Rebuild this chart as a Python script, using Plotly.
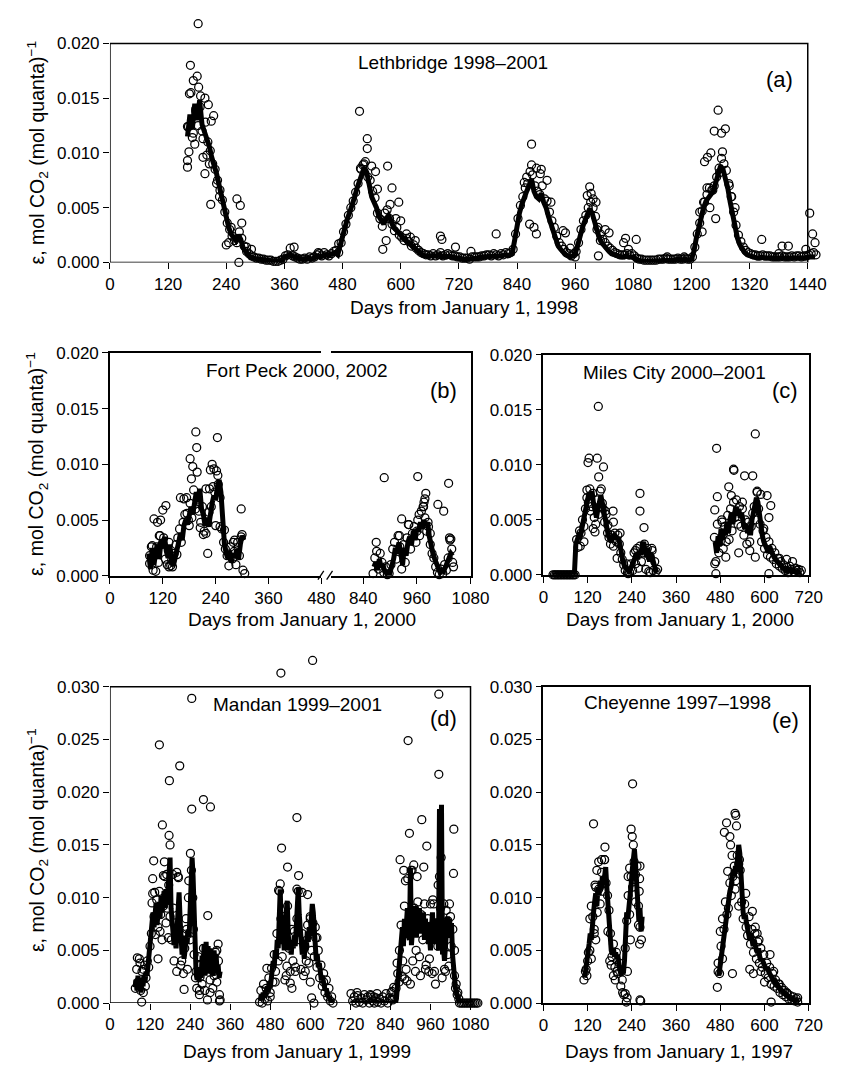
import numpy as np
import plotly.graph_objects as go

# Light-use efficiency, in units of 1e-3 mol CO2 (mol quanta)^-1.
# Each season: first day, sampling step (days) and the daily values.

# ---------------- (a) Lethbridge 1998-2001 ----------------
LETH_MODEL_START, LETH_MODEL_STEP = 160, 5
LETH_MODEL = [
    11.5, 13.5, 12.2, 14.5, 13.0, 14.8, 12.6, 12.0, 11.2, 10.6,
    9.6, 8.9, 8.1, 7.1, 6.1, 4.9, 3.9, 3.2, 2.6, 2.2,
    2.0, 2.5, 2.1, 1.3, 0.9, 0.7, 0.5, 0.4, 0.35, 0.3,
    0.3, 0.25, 0.2, 0.2, 0.15, 0.15, 0.1, 0.1, 0.1, 0.2,
    0.5, 0.6, 0.7, 0.6, 0.5, 0.4, 0.3, 0.3, 0.3, 0.35,
    0.4, 0.3, 0.4, 0.5, 0.6, 0.5, 0.6, 0.7, 0.6, 0.7,
    0.8, 0.9, 0.7, 1.6, 2.5, 3.2, 4.0, 4.6, 5.2, 6.0,
    6.8, 7.5, 8.0, 8.7, 8.2, 7.0, 6.0, 5.5, 5.0, 4.2,
    3.8, 3.5, 4.0, 4.3, 3.8, 3.2, 3.0, 2.8, 2.5, 2.2,
    2.0, 1.8, 1.6, 1.4, 1.2, 1.0, 0.8, 0.7, 0.6, 0.6,
    0.5, 0.6, 0.5, 0.6, 0.7, 0.5, 0.6, 0.5, 0.6, 0.5,
    0.5, 0.4, 0.4, 0.3, 0.3, 0.3, 0.3, 0.4, 0.4, 0.4,
    0.4, 0.5, 0.5, 0.5, 0.6, 0.5, 0.6, 0.6, 0.5, 0.6,
    0.6, 0.7, 0.6, 0.7, 0.8, 2.0, 3.5, 4.5, 5.3, 6.0,
    6.5, 7.0, 7.6, 6.5, 6.0, 5.8, 6.3, 5.5, 5.0, 4.2,
    3.5, 2.8, 2.0, 1.5, 1.2, 0.9, 0.7, 0.6, 0.5, 0.6,
    0.8, 1.5, 2.5, 3.2, 3.8, 4.4, 4.9, 4.5, 3.8, 2.8,
    2.2, 1.8, 1.5, 1.2, 1.0, 0.8, 0.7, 0.6, 0.5, 0.5,
    0.5, 0.6, 0.5, 0.5, 0.5, 0.3, 0.2, 0.2, 0.1, 0.1,
    0.1, 0.1, 0.1, 0.1, 0.2, 0.2, 0.2, 0.2, 0.2, 0.2,
    0.2, 0.2, 0.3, 0.2, 0.2, 0.3, 0.2, 0.2, 0.3, 1.0,
    2.2, 3.2, 4.2, 5.0, 5.6, 6.0, 6.2, 6.5, 7.2, 8.0,
    8.8, 8.5, 7.8, 6.8, 5.5, 4.2, 3.0, 2.2, 1.6, 1.2,
    0.9, 0.7, 0.6, 0.5, 0.5, 0.4, 0.4, 0.5, 0.4, 0.4,
    0.4, 0.3, 0.3, 0.3, 0.3, 0.4, 0.3, 0.3, 0.3, 0.4,
    0.3, 0.4, 0.4, 0.3, 0.4, 0.4, 0.5, 0.5, 0.6, 0.5,
]
LETH_OBS_START, LETH_OBS_STEP = 162, 5
LETH_OBS = [
    12.4, 15.5, 11.8, 14.0, 12.5, 15.2, 11.3, 12.8, 11.0, 10.2,
    9.0, 8.5, 7.5, 6.6, 5.7, 4.6, 3.6, 3.0, 2.4, 2.0,
    1.8, 2.8, 2.2, 1.5, 1.0, 0.8, 0.6, 0.5, 0.4, 0.4,
    0.3, 0.3, 0.2, 0.2, 0.2, 0.1, 0.1, 0.1, 0.2, 0.3,
    0.6, 0.7, 1.3, 0.6, 0.5, 0.4, 0.3, 0.3, 0.4, 0.3,
    0.5, 0.4, 0.5, 0.7, 0.8, 0.6, 0.9, 0.7, 0.6, 0.8,
    1.0, 1.1, 0.9, 1.8, 2.8, 3.5, 4.3, 5.0, 5.6, 6.4,
    7.2, 8.6, 8.9, 9.2, 7.8, 7.5, 6.5, 5.9, 4.5, 4.0,
    3.3, 4.5, 4.8, 4.0, 3.5, 2.9, 3.2, 2.5, 2.3, 2.0,
    2.2, 1.9, 1.5, 1.6, 1.3, 1.1, 0.9, 0.8, 0.7, 0.7,
    0.6, 0.8, 0.6, 0.7, 0.9, 0.6, 0.7, 0.8, 0.7, 0.6,
    0.6, 0.5, 0.5, 0.4, 0.4, 0.4, 0.3, 0.5, 0.5, 0.5,
    0.5, 0.6, 0.6, 0.7, 0.7, 0.6, 0.8, 0.7, 0.6, 0.8,
    0.7, 0.9, 0.8, 0.9, 1.2, 2.6, 4.0, 5.2, 6.0, 6.8,
    7.2, 8.3, 8.0, 7.0, 6.5, 6.2, 7.0, 5.8, 5.6, 4.6,
    3.8, 3.2, 2.4, 1.8, 1.5, 1.2, 0.9, 0.8, 0.6, 0.8,
    1.0, 1.8, 3.0, 3.8, 4.3, 5.0, 5.5, 5.0, 4.2, 3.2,
    2.6, 2.1, 1.8, 1.5, 1.3, 1.1, 0.9, 0.8, 0.7, 0.7,
    0.7, 0.8, 0.7, 0.8, 0.6, 0.4, 0.3, 0.3, 0.2, 0.2,
    0.2, 0.2, 0.2, 0.2, 0.3, 0.3, 0.3, 0.4, 0.3, 0.3,
    0.3, 0.3, 0.4, 0.3, 0.3, 0.4, 0.3, 0.3, 0.5, 1.4,
    2.6, 3.6, 4.7, 5.5, 6.2, 6.8, 6.6, 7.0, 7.8, 8.6,
    9.5, 9.0, 8.4, 7.2, 6.0, 4.6, 3.4, 2.5, 1.9, 1.4,
    1.1, 0.9, 0.8, 0.7, 0.7, 0.6, 0.6, 0.7, 0.6, 0.6,
    0.6, 0.5, 0.5, 0.5, 0.5, 0.6, 0.5, 0.5, 0.5, 0.6,
    0.5, 0.6, 0.6, 0.5, 0.6, 0.6, 0.7, 0.8, 0.9, 0.7,
]
LETH_EXTRA_DAYS = [
    182, 166, 180, 172, 183, 164, 196, 203, 214, 209, 160, 163, 160, 160, 192, 196,
    175, 170, 186, 177, 190, 200, 205, 208, 220, 226, 262, 269, 272, 266, 250, 240,
    245, 282, 292, 380, 430, 472, 515, 531, 531, 524, 518, 540, 548, 573, 582, 596,
    563, 570, 552, 578, 590, 600, 612, 620, 630, 682, 685, 713, 745, 797, 870, 870,
    880, 890, 888, 860, 855, 866, 875, 880, 902, 910, 935, 940, 950, 960, 985, 990,
    993, 997, 1003, 1005, 1008, 1012, 1022, 1030, 1064, 1086, 1060, 1070, 1150, 1185,
    1217, 1225, 1227, 1240, 1233, 1247, 1255, 1262, 1270, 1264, 1258, 1244, 1250,
    1238, 1232, 1278, 1283, 1290, 1222, 1345, 1387, 1400, 1380, 1444, 1455, 1450, 1436,
]
LETH_EXTRA_VALS = [
    21.8, 18.0, 17.0, 16.6, 16.0, 15.4, 15.0, 14.4, 13.4, 12.9, 12.4, 10.1, 9.3, 8.7, 9.6, 8.1,
    10.8, 11.4, 14.2, 13.8, 12.0, 9.8, 9.0, 5.3, 7.2, 6.0, 5.8, 5.2, 3.6, 0.0, 3.2, 1.6,
    1.8, 1.4, 1.2, 1.4, 0.9, 1.7, 13.8, 11.3, 10.4, 9.0, 8.5, 8.8, 8.3, 8.8, 6.8, 5.5,
    1.2, 2.0, 6.7, 5.3, 4.0, 3.8, 2.6, 2.3, 2.0, 2.4, 2.1, 1.4, 1.0, 2.6, 10.8, 8.9,
    8.6, 8.5, 8.1, 7.8, 7.3, 3.5, 3.2, 2.6, 7.5, 5.5, 2.9, 2.7, 1.3, 0.5, 6.1, 6.9,
    6.3, 5.8, 5.5, 3.0, 0.6, 2.0, 3.0, 2.7, 2.2, 2.1, 1.8, 1.2, 0.5, 0.5,
    4.6, 5.5, 9.2, 10.0, 9.6, 12.0, 13.9, 11.8, 12.2, 10.1, 8.2, 6.6, 4.0,
    5.0, 6.8, 7.0, 6.0, 5.0, 2.8, 2.1, 1.5, 1.5, 0.8, 4.5, 1.8, 2.6, 1.2,
]

# ---------------- (b) Fort Peck 2000, 2002 ----------------
FP_MODEL_2000_START, FP_MODEL_2000_STEP = 88, 4
FP_MODEL_2000 = [
    2.0, 0.6, 2.5, 1.0, 2.2, 2.8, 1.5, 3.2, 2.5, 3.5,
    2.2, 1.6, 2.8, 1.2, 0.9, 1.5, 2.2, 3.0, 3.8, 3.2,
    4.5, 5.0, 4.6, 5.8, 6.2, 5.5, 7.0, 7.5, 6.6, 7.8,
    6.0, 5.5, 4.5, 5.2, 4.4, 6.0, 6.5, 7.2, 6.8, 8.0,
    8.6, 7.5, 5.0, 2.8, 2.0, 1.5, 2.2, 1.2, 2.0, 1.6,
    2.4, 1.5, 2.8, 3.6, 3.2,
]
FP_OBS_2000_START, FP_OBS_2000_STEP = 90, 4
FP_OBS_2000 = [
    1.8, 2.6, 0.5, 2.0, 2.6, 1.2, 3.6, 2.8, 3.4, 1.5,
    1.0, 3.0, 0.9, 0.8, 2.0, 2.8, 3.4, 4.2, 3.0, 4.8,
    5.5, 7.0, 5.0, 6.5, 5.2, 7.7, 6.0, 6.8, 5.8, 4.8,
    6.2, 4.0, 3.8, 4.8, 7.8, 6.2, 8.0, 7.5, 9.4, 8.2,
    7.0, 4.2, 3.0, 2.4, 1.8, 0.9, 2.6, 1.5, 2.2, 1.0,
    3.0, 1.8, 3.5, 0.5, 0.2,
]
FP_EXTRA_2000_DAYS = [
    195, 244, 197, 182, 188, 198, 185, 232, 228, 236, 245, 298, 222, 100, 115, 120,
    127, 108, 112, 96, 90, 104, 160, 168, 175, 180, 205, 212, 218, 225, 240, 250,
    260, 283, 300, 280, 134, 140, 152,
]
FP_EXTRA_2000_VALS = [
    12.9, 12.4, 11.5, 10.5, 9.8, 9.3, 8.7, 10.0, 9.5, 9.6, 9.0, 6.0, 2.0, 5.1, 5.0, 5.9,
    6.3, 4.8, 3.6, 2.7, 1.1, 0.4, 7.0, 6.9, 5.6, 4.5, 4.3, 3.7, 7.8, 5.7, 4.5, 4.4,
    4.1, 3.2, 3.7, 3.0, 0.8, 1.4, 1.9,
]
FP_MODEL_2002_START, FP_MODEL_2002_STEP = 864, 4
FP_MODEL_2002 = [
    0.8, 1.2, 0.5, 1.5, 0.8, 1.0, 0.4, 0.2, 0.1, 0.3,
    0.8, 1.5, 2.5, 2.0, 3.0, 2.2, 1.0, 2.5, 1.8, 3.0,
    3.5, 2.8, 4.0, 3.2, 4.2, 4.0, 4.8, 4.2, 5.0, 4.5,
    4.8, 3.5, 2.5, 2.0, 1.5, 1.0, 0.5, 0.3, 0.5, 0.4,
    0.8, 1.2, 1.5, 2.0, 1.8,
]
FP_OBS_2002_START, FP_OBS_2002_STEP = 862, 4
FP_OBS_2002 = [
    0.2, 1.6, 2.2, 0.6, 2.0, 1.2, 0.3, 0.8, 0.1, 0.2,
    1.0, 2.4, 3.0, 1.5, 3.6, 2.6, 0.6, 2.8, 1.2, 3.4,
    4.6, 2.4, 3.8, 4.4, 3.0, 5.0, 3.6, 5.8, 6.2, 5.2,
    4.0, 4.4, 2.8, 2.0, 1.6, 0.8, 0.3, 0.1, 0.6, 0.2,
    1.0, 0.5, 1.6, 3.2, 2.4, 0.8,
]
FP_EXTRA_2002_DAYS = [
    869, 887, 962, 1031, 980, 978, 976, 975, 1007, 1020, 926, 921, 941, 1033, 1036,
    960, 965, 985, 990, 1040,
]
FP_EXTRA_2002_VALS = [
    3.0, 8.8, 8.9, 8.3, 7.4, 6.9, 6.6, 6.2, 6.4, 5.8, 5.1, 3.6, 4.6, 3.4, 3.3,
    4.0, 5.5, 4.8, 3.8, 1.2,
]

# ---------------- (c) Miles City 2000-2001 ----------------
MC_MODEL_2000_START, MC_MODEL_2000_STEP = 24, 4
MC_MODEL_2000 = [
    0, 0, 0, 0, 0, 0, 0, 0, 0, 0, 0, 0, 0, 0, 0, 0,
    2.8, 3.2, 3.6, 3.5, 4.2, 4.8, 5.5, 6.5, 7.2, 7.5,
    7.0, 7.6, 6.5, 5.8, 5.2, 6.0, 6.8, 7.2, 6.5, 5.6,
    5.0, 4.2, 3.6, 3.2, 3.0, 3.4, 3.6, 3.5, 3.2, 3.4,
    2.5, 1.6, 1.2, 0.8, 0.6, 0.4, 0.3, 0.5, 0.8, 1.2,
    1.5, 2.0, 1.4, 2.2, 1.8, 2.6, 3.0, 2.2, 1.6, 2.4,
    1.2, 2.0, 1.4, 0.8, 0.5, 0.2,
]
MC_OBS_2000_START, MC_OBS_2000_STEP = 26, 4
MC_OBS_2000 = [
    0, 0, 0, 0, 0, 0, 0, 0, 0, 0, 0, 0, 0, 0, 0, 0,
    3.2, 2.5, 4.0, 3.8, 5.0, 4.4, 6.0, 7.0, 6.6, 7.8,
    6.2, 7.4, 5.2, 4.6, 6.8, 5.5, 7.6, 6.2, 6.0, 4.8,
    5.5, 3.8, 3.4, 2.8, 3.6, 2.6, 3.8, 3.0, 3.6, 2.8,
    2.0, 1.4, 0.9, 0.4, 1.0, 0.1, 0.2, 1.0, 0.4, 2.0,
    1.0, 2.4, 0.6, 2.6, 1.2, 2.0, 2.8, 0.5, 2.4, 0.3,
    1.6, 2.4, 0.4, 1.2, 0.3, 0.5,
]
MC_EXTRA_2000_DAYS = [
    121, 124, 146, 149, 150, 163, 157, 189, 190, 262, 262, 273, 118, 128, 135, 140,
    160, 168, 175, 200, 208, 228, 250, 290, 295, 110, 100,
]
MC_EXTRA_2000_VALS = [
    10.2, 10.6, 10.6, 15.3, 8.9, 9.8, 7.8, 5.8, 4.8, 7.4, 5.8, 4.3, 7.7, 5.8, 4.2, 3.9,
    6.5, 5.8, 4.5, 1.5, 3.8, 0.2, 2.2, 0.2, 2.2, 3.0, 2.6,
]
MC_MODEL_2001_START, MC_MODEL_2001_STEP = 466, 4
MC_MODEL_2001 = [
    3.0, 2.0, 3.5, 2.6, 4.2, 3.2, 4.0, 3.6, 4.8, 3.8,
    5.0, 5.6, 4.6, 5.8, 6.2, 5.4, 6.0, 5.2, 5.6, 4.8,
    4.2, 4.6, 3.8, 4.4, 3.6, 5.0, 5.8, 6.5, 7.0, 6.6,
    5.4, 4.2, 3.6, 3.0, 2.8, 2.4, 2.0, 2.6, 2.2, 1.8,
    1.6, 1.4, 1.2, 1.0, 0.9, 0.7, 0.6, 0.5, 0.4, 0.3,
    0.5, 0.4, 0.3, 0.4, 0.3, 0.2, 0.3, 0.2, 0.3,
]
MC_OBS_2001_START, MC_OBS_2001_STEP = 464, 4
MC_OBS_2001 = [
    3.4, 1.2, 4.6, 2.0, 3.0, 5.0, 2.4, 4.4, 3.0, 5.4,
    3.2, 6.0, 4.0, 6.6, 5.2, 6.8, 4.6, 6.2, 4.4, 6.0,
    3.6, 5.0, 2.8, 4.8, 3.0, 4.4, 5.6, 6.2, 5.0, 7.6,
    6.0, 4.6, 3.0, 4.0, 2.4, 3.4, 1.8, 3.0, 1.6, 2.4,
    1.4, 2.0, 1.0, 1.5, 0.8, 1.2, 0.6, 0.9, 0.4, 0.7,
    0.2, 0.8, 0.5, 1.2, 0.3, 0.6, 0.4, 0.5, 0.2, 0.4,
]
MC_EXTRA_2001_DAYS = [
    465, 470, 472, 468, 465, 575, 516, 517, 546, 568, 503, 510, 580, 590, 607, 617,
    612, 612, 530, 560, 575, 495, 485, 598, 540, 660, 665, 640,
]
MC_EXTRA_2001_VALS = [
    5.9, 11.5, 7.1, 0.1, 1.0, 12.8, 9.6, 9.5, 9.0, 9.0, 8.0, 7.2, 7.5, 7.3, 7.2, 6.3,
    5.2, 0.1, 2.0, 2.2, 1.6, 1.6, 4.8, 4.2, 6.6, 1.4, 0.3, 1.5,
]

# ---------------- (d) Mandan 1999-2001 ----------------
MAN_MODEL_1999_START, MAN_MODEL_1999_STEP = 75, 3
MAN_MODEL_1999 = [
    1.5, 2.2, 1.2, 2.6, 1.6, 2.0, 1.0, 2.4, 1.6, 2.6,
    2.0, 3.0, 2.6, 3.6, 4.2, 5.0, 5.6, 6.5, 8.6, 7.2,
    8.0, 9.5, 7.4, 8.8, 9.6, 8.0, 10.2, 8.6, 9.8, 10.6,
    9.0, 10.8, 9.4, 11.0, 12.5, 13.8, 9.0, 7.0, 6.2, 5.5,
    6.0, 5.2, 7.0, 9.4, 10.5, 8.0, 5.4, 4.6, 5.8, 4.2,
    5.0, 6.4, 5.6, 7.0, 6.2, 8.4, 10.5, 13.8, 12.0, 7.5,
    4.4, 2.8, 2.2, 3.0, 2.0, 3.4, 2.4, 4.5, 3.0, 5.6,
    2.6, 5.8, 3.2, 5.4, 2.8, 5.2, 3.0, 4.8, 2.6, 5.0,
    3.2, 4.6, 2.8, 3.6, 2.4, 3.0,
]
MAN_OBS_1999_START, MAN_OBS_1999_STEP = 76, 4
MAN_OBS_1999 = [
    1.4, 3.2, 2.0, 4.2, 1.2, 3.0, 1.0, 3.6, 2.4, 4.0,
    3.4, 5.4, 6.6, 10.4, 8.2, 6.5, 9.8, 7.2, 10.6, 8.4,
    6.0, 9.2, 12.0, 7.6, 9.0, 11.2, 8.2, 6.0, 12.2, 4.0,
    7.6, 3.0, 12.0, 6.2, 3.6, 6.6, 2.8, 5.2, 8.0, 3.2,
    11.6, 6.0, 12.6, 10.0, 4.6, 2.4, 1.4, 4.4, 0.8, 3.6,
    1.8, 5.2, 1.2, 4.6, 0.3, 4.0, 2.2, 3.8, 1.4, 2.6,
    4.8, 2.0, 5.6, 0.2,
]
MAN_EXTRA_1999_DAYS = [
    148, 209, 178, 245, 245, 280, 301, 157, 177, 180, 241, 131, 128, 163, 160, 293,
    222, 144, 95, 170, 200, 205, 235, 134, 126, 150, 175, 190, 215, 230, 250, 258,
    268, 270, 286, 300, 310, 320, 325, 328, 330, 82, 90, 100, 106,
]
MAN_EXTRA_1999_VALS = [
    24.5, 22.5, 21.1, 28.9, 18.4, 19.3, 18.6, 16.9, 15.9, 15.0, 14.2, 13.5, 11.8, 13.4, 12.1, 8.3,
    1.3, 4.2, 0.1, 12.2, 12.4, 11.9, 10.0, 10.5, 9.5, 6.8, 6.2, 9.0, 4.0, 7.0, 7.0, 3.0,
    1.2, 2.5, 3.4, 1.0, 3.0, 5.0, 4.0, 0.8, 0.3, 4.3, 3.8, 3.2, 1.6,
]
MAN_MODEL_2000_START, MAN_MODEL_2000_STEP = 450, 3
MAN_MODEL_2000 = [
    0.2, 0.8, 0.3, 1.0, 0.5, 1.2, 0.8, 1.6, 1.0, 2.0,
    1.4, 2.6, 3.0, 4.0, 3.4, 5.0, 4.2, 6.0, 5.2, 8.0,
    10.8, 7.0, 5.6, 6.4, 5.0, 7.4, 8.2, 9.7, 6.6, 5.0,
    5.8, 4.6, 6.0, 5.2, 6.4, 5.4, 7.2, 9.0, 10.9, 8.4,
    6.8, 5.2, 4.6, 5.4, 4.2, 6.0, 5.0, 6.8, 5.8, 7.2,
    6.4, 8.0, 9.4, 8.6, 6.0, 5.2, 4.0, 4.6, 3.4, 3.8,
    2.8, 2.2, 2.6, 1.8, 1.6, 1.2, 1.4, 0.8, 0.6, 0.4,
    0.2, 0.1, 0.0,
]
MAN_OBS_2000_START, MAN_OBS_2000_STEP = 448, 4
MAN_OBS_2000 = [
    0.1, 1.2, 0.0, 1.8, 0.4, 1.4, 0.2, 2.4, 0.6, 3.3,
    2.0, 4.6, 3.0, 6.6, 4.0, 10.6, 8.0, 4.4, 7.2, 2.2,
    6.0, 9.2, 5.2, 3.0, 7.0, 4.0, 6.8, 3.4, 8.0, 10.6,
    6.0, 3.2, 6.6, 2.6, 5.4, 4.0, 7.4, 3.8, 8.2, 5.0,
    7.6, 4.4, 6.2, 3.4, 5.0, 2.4, 3.6, 1.6, 2.8, 1.0,
    2.2, 0.6, 1.4, 0.2, 0.6, 0.0,
]
MAN_EXTRA_2000_DAYS = [
    512, 607, 560, 514, 532, 565, 592, 510, 505, 520, 560, 575, 600, 615, 620, 528,
    540, 545, 600, 604, 611, 470, 480, 495, 530, 555, 585, 640,
]
MAN_EXTRA_2000_VALS = [
    31.3, 32.5, 17.6, 14.7, 12.9, 12.1, 10.3, 11.3, 10.7, 8.2, 10.8, 10.5, 8.0, 7.2, 6.2, 2.6,
    1.9, 1.4, 2.0, 0.5, 0.0, 3.3, 1.0, 2.0, 3.5, 3.0, 3.0, 2.0,
]
MAN_MODEL_2001_START, MAN_MODEL_2001_STEP = 720, 3
MAN_MODEL_2001 = [
    0, 0, 0, 0, 0, 0, 0, 0, 0, 0, 0, 0, 0, 0, 0, 0, 0, 0, 0, 0, 0, 0, 0,
    0, 0, 0, 0, 0, 0, 0, 0, 0, 0, 0, 0, 0, 0, 0, 0, 0, 0, 0, 0, 0, 0, 0,
    0.4, 1.5, 2.6, 4.0, 5.2, 6.0, 7.2, 5.4, 8.0, 6.2,
    7.6, 9.0, 6.4, 6.0, 12.8, 5.5, 6.8, 8.6, 7.0, 9.2,
    6.2, 8.8, 7.0, 9.0, 6.6, 8.4, 7.2, 8.6, 6.0, 8.0,
    6.4, 7.6, 5.6, 6.4, 5.0, 7.0, 8.6, 6.0, 7.4, 5.6,
    6.8, 8.0, 5.0, 18.4, 5.8, 18.8, 4.6, 5.2, 4.0, 5.6,
    7.0, 8.2, 6.4, 8.0, 6.2, 7.6, 4.6, 3.0, 2.0, 1.4,
    1.0, 0.6, 0.2, 0, 0, 0, 0, 0, 0, 0, 0, 0, 0, 0, 0,
]
MAN_OBS_2001_START, MAN_OBS_2001_STEP = 722, 5
MAN_OBS_2001 = [
    0.9, 0.2, 0.6, 0.0, 0.7, 0.1, 0.5, 0.0, 0.8, 0.3,
    0.6, 0.0, 0.7, 0.2, 0.0, 0.5, 0.1, 0.4, 0.0, 0.6,
    0.2, 0.9, 0.0, 0.5, 1.0, 0.3, 0.6,
    1.4, 2.8, 5.0, 7.4, 4.0, 9.2, 3.2, 11.8, 6.6, 12.6,
    4.0, 9.0, 5.0, 9.6, 4.4, 8.4, 6.0, 9.4, 3.6, 8.0,
    4.2, 7.0, 9.8, 3.0, 7.6, 5.4, 12.0, 13.8, 6.8, 3.2,
    8.8, 4.6, 9.4, 5.4, 7.0, 2.6, 1.8, 1.0,
    0, 0, 0, 0, 0, 0, 0, 0, 0, 0, 0, 0,
]
MAN_EXTRA_2001_DAYS = [
    985, 893, 985, 934, 1030, 897, 949, 869, 1029, 880, 885, 905, 910, 920, 940, 960,
    970, 983, 990, 1000, 1012, 1020, 1032, 875, 883, 890, 900, 915, 930, 945, 955, 965,
    975, 995, 1005, 1015, 1035, 1040, 1045, 860, 850, 845, 800, 780, 790, 740, 845, 866,
]
MAN_EXTRA_2001_VALS = [
    29.3, 24.9, 21.7, 17.4, 16.5, 16.1, 14.9, 13.6, 12.3, 12.6, 11.6, 12.6, 13.1, 12.0, 12.9, 9.4,
    9.4, 11.2, 9.0, 9.4, 7.8, 8.2, 5.0, 2.5, 2.3, 2.1, 1.8, 3.0, 2.6, 3.2, 3.0, 2.8,
    1.8, 2.4, 3.0, 3.5, 1.4, 0.8, 0.4, 3.8, 1.5, 0.4, 0.9, 0.8, 0.6, 1.0, 1.1, 2.0,
]

# ---------------- (e) Cheyenne 1997-1998 ----------------
CH_MODEL_1997_START, CH_MODEL_1997_STEP = 112, 3
CH_MODEL_1997 = [
    2.4, 3.0, 3.6, 4.8, 5.6, 6.6, 6.0, 8.0, 8.6, 9.6,
    10.4, 9.2, 11.0, 10.2, 11.6, 10.8, 12.0, 11.2, 12.6, 12.9,
    11.0, 9.0, 7.0, 5.8, 5.0, 4.6, 5.2, 4.4, 4.8, 4.2,
    4.6, 3.6, 3.0, 2.6, 3.2, 2.8, 4.0, 6.6, 8.6, 8.0,
    9.6, 10.4, 11.2, 12.6, 13.6, 14.6, 13.2, 11.0, 9.0, 7.8,
    9.0, 6.8, 8.2,
]
CH_OBS_1997_START, CH_OBS_1997_STEP = 110, 4
CH_OBS_1997 = [
    2.2, 3.0, 2.6, 4.8, 5.0, 4.2, 8.2, 6.6, 11.0, 8.6,
    10.8, 9.4, 12.4, 10.6, 13.6, 11.4, 10.2, 8.8, 6.6, 4.4,
    5.6, 3.4, 4.8, 2.8, 3.8, 1.6, 2.2, 0.8, 5.2, 7.8,
    10.2, 8.4, 12.0, 11.0, 13.4, 12.2, 13.0, 9.2, 7.2, 6.0,
]
CH_EXTRA_1997_DAYS = [
    136, 167, 158, 166, 150, 145, 140, 130, 126, 138, 142, 120, 116, 242, 238, 241,
    244, 262, 261, 260, 258, 261, 262, 264, 227, 225, 222, 230, 234, 250, 245, 200,
    190, 175, 180, 184, 195, 215, 236, 228,
]
CH_EXTRA_1997_VALS = [
    17.0, 14.8, 13.6, 13.6, 13.4, 12.6, 11.2, 9.2, 8.0, 7.0, 6.0, 4.0, 3.2, 20.8, 16.5, 15.8,
    15.0, 13.0, 11.8, 10.6, 7.4, 5.6, 0.3, 0.2, 0.5, 0.1, 0.9, 12.0, 12.8, 9.6, 11.5, 3.0,
    2.6, 6.8, 4.0, 3.6, 2.2, 1.0, 6.0, 3.0,
]
CH_MODEL_1998_START, CH_MODEL_1998_STEP = 476, 3
CH_MODEL_1998 = [
    2.6, 3.4, 4.2, 5.0, 6.2, 7.2, 8.0, 8.8, 9.4, 10.0,
    10.6, 11.0, 11.8, 12.6, 12.0, 13.0, 12.4, 13.6, 15.0, 14.2,
    12.0, 10.0, 8.6, 8.0, 8.4, 7.6, 7.0, 6.4, 6.0, 6.6,
    5.8, 5.4, 6.0, 5.2, 5.0, 4.8, 5.2, 4.4, 4.0, 4.2,
    3.8, 3.6, 3.4, 3.2, 3.4, 3.0, 2.8, 2.6, 2.4, 2.2,
    2.0, 2.1, 1.8, 1.7, 1.5, 1.4, 1.3, 1.1, 1.0, 0.9,
    0.8, 0.7, 0.6, 0.6, 0.5, 0.4, 0.4, 0.3, 0.3, 0.2,
    0.2, 0.1,
]
CH_OBS_1998_START, CH_OBS_1998_STEP = 474, 4
CH_OBS_1998 = [
    3.8, 2.8, 5.4, 4.2, 7.0, 9.6, 8.4, 9.0, 11.4, 10.2,
    12.0, 13.0, 11.6, 14.0, 13.2, 12.6, 9.6, 8.0, 9.4, 7.2,
    6.4, 8.2, 5.6, 7.0, 4.8, 6.6, 4.2, 5.8, 3.8, 5.2,
    3.4, 4.6, 2.8, 3.8, 2.4, 3.4, 1.8, 2.8, 1.6, 2.2,
    1.4, 1.8, 1.0, 1.5, 0.8, 1.2, 0.6, 0.9, 0.4, 0.7,
    0.3, 0.6, 0.2, 0.4, 0.1,
]
CH_EXTRA_1998_DAYS = [
    472, 474, 480, 486, 491, 497, 520, 522, 524, 506, 508, 500, 512, 532, 513, 520,
    530, 549, 567, 575, 580, 585, 615, 618, 560, 570, 590, 600, 625, 640, 650, 660, 690,
]
CH_EXTRA_1998_VALS = [
    1.5, 3.0, 6.8, 8.0, 16.2, 17.1, 18.0, 17.8, 16.8, 15.8, 15.0, 12.5, 14.0, 13.6, 2.8, 10.8,
    9.2, 10.4, 8.7, 7.2, 6.6, 6.0, 4.6, 0.1, 3.2, 2.8, 3.0, 2.0, 3.0, 1.8, 1.2, 1.0, 0.5,
]

# Axis ticks
TICKS_1440 = list(range(0, 1441, 120))
TICKS_FP_LEFT = [0, 120, 240, 360, 480]
TICKS_FP_RIGHT = [840, 960, 1080]
TICKS_720 = list(range(0, 721, 120))
TICKS_1080 = list(range(0, 1081, 120))
Y_TICKS_020 = [0.0, 0.005, 0.010, 0.015, 0.020]
Y_TICKS_030 = [0.0, 0.005, 0.010, 0.015, 0.020, 0.025, 0.030]

Y_TITLE = "ε, mol CO<sub>2</sub> (mol quanta)<sup>−1</sup>"


def season(start, step, vals):
    days = start + step * np.arange(len(vals))
    return days, np.asarray(vals, dtype=float) / 1000.0


W, H = 853, 1074
FONT = "Liberation Sans, Arial, Helvetica, sans-serif"


def fx(p):
    return p / W


def fy(p):
    return 1 - p / H


fig = go.Figure()


def add_obs(xa, ya, days, vals):
    fig.add_trace(go.Scatter(
        x=days, y=vals, xaxis=xa, yaxis=ya, mode="markers", cliponaxis=False,
        marker=dict(symbol="circle-open", size=8, color="black",
                    line=dict(width=1.25, color="black")),
        showlegend=False, hoverinfo="skip"))


def add_model(xa, ya, days, vals):
    fig.add_trace(go.Scatter(
        x=days, y=vals, xaxis=xa, yaxis=ya, mode="lines",
        line=dict(color="black", width=5),
        showlegend=False, hoverinfo="skip"))


def add_extra(xa, ya, days, vals):
    add_obs(xa, ya, np.asarray(days), np.asarray(vals, dtype=float) / 1000.0)


# (a)
add_obs("x", "y", *season(LETH_OBS_START, LETH_OBS_STEP, LETH_OBS))
add_extra("x", "y", LETH_EXTRA_DAYS, LETH_EXTRA_VALS)
add_model("x", "y", *season(LETH_MODEL_START, LETH_MODEL_STEP, LETH_MODEL))

# (b) left and right of the axis break
add_obs("x2", "y2", *season(FP_OBS_2000_START, FP_OBS_2000_STEP, FP_OBS_2000))
add_extra("x2", "y2", FP_EXTRA_2000_DAYS, FP_EXTRA_2000_VALS)
add_model("x2", "y2", *season(FP_MODEL_2000_START, FP_MODEL_2000_STEP, FP_MODEL_2000))
add_obs("x3", "y3", *season(FP_OBS_2002_START, FP_OBS_2002_STEP, FP_OBS_2002))
add_extra("x3", "y3", FP_EXTRA_2002_DAYS, FP_EXTRA_2002_VALS)
add_model("x3", "y3", *season(FP_MODEL_2002_START, FP_MODEL_2002_STEP, FP_MODEL_2002))

# (c)
add_obs("x4", "y4", *season(MC_OBS_2000_START, MC_OBS_2000_STEP, MC_OBS_2000))
add_extra("x4", "y4", MC_EXTRA_2000_DAYS, MC_EXTRA_2000_VALS)
add_model("x4", "y4", *season(MC_MODEL_2000_START, MC_MODEL_2000_STEP, MC_MODEL_2000))
add_obs("x4", "y4", *season(MC_OBS_2001_START, MC_OBS_2001_STEP, MC_OBS_2001))
add_extra("x4", "y4", MC_EXTRA_2001_DAYS, MC_EXTRA_2001_VALS)
add_model("x4", "y4", *season(MC_MODEL_2001_START, MC_MODEL_2001_STEP, MC_MODEL_2001))

# (d)
for s_obs, s_ext, s_mod in [
    ((MAN_OBS_1999_START, MAN_OBS_1999_STEP, MAN_OBS_1999),
     (MAN_EXTRA_1999_DAYS, MAN_EXTRA_1999_VALS),
     (MAN_MODEL_1999_START, MAN_MODEL_1999_STEP, MAN_MODEL_1999)),
    ((MAN_OBS_2000_START, MAN_OBS_2000_STEP, MAN_OBS_2000),
     (MAN_EXTRA_2000_DAYS, MAN_EXTRA_2000_VALS),
     (MAN_MODEL_2000_START, MAN_MODEL_2000_STEP, MAN_MODEL_2000)),
    ((MAN_OBS_2001_START, MAN_OBS_2001_STEP, MAN_OBS_2001),
     (MAN_EXTRA_2001_DAYS, MAN_EXTRA_2001_VALS),
     (MAN_MODEL_2001_START, MAN_MODEL_2001_STEP, MAN_MODEL_2001)),
]:
    add_obs("x5", "y5", *season(*s_obs))
    add_extra("x5", "y5", *s_ext)
    add_model("x5", "y5", *season(*s_mod))

# (e)
add_obs("x6", "y6", *season(CH_OBS_1997_START, CH_OBS_1997_STEP, CH_OBS_1997))
add_extra("x6", "y6", CH_EXTRA_1997_DAYS, CH_EXTRA_1997_VALS)
add_model("x6", "y6", *season(CH_MODEL_1997_START, CH_MODEL_1997_STEP, CH_MODEL_1997))
add_obs("x6", "y6", *season(CH_OBS_1998_START, CH_OBS_1998_STEP, CH_OBS_1998))
add_extra("x6", "y6", CH_EXTRA_1998_DAYS, CH_EXTRA_1998_VALS)
add_model("x6", "y6", *season(CH_MODEL_1998_START, CH_MODEL_1998_STEP, CH_MODEL_1998))

AX = dict(showline=True, linecolor="black", linewidth=1.5, ticks="outside",
          ticklen=6, tickwidth=1.3, tickcolor="black", showgrid=False,
          zeroline=False, tickfont=dict(family=FONT, size=17, color="black"))


def xax(anchor, left, right, rng, ticks, mirror=True, line=True):
    return dict(AX, anchor=anchor, domain=[fx(left), fx(right)], range=rng,
                tickmode="array", tickvals=ticks, mirror=mirror, showline=line)


def yax(anchor, top, bottom, rng, ticks, mirror=True, line=True):
    return dict(AX, anchor=anchor, domain=[fy(bottom), fy(top)], range=rng,
                tickmode="array", tickvals=ticks, tickformat=".3f", mirror=mirror,
                showline=line)


# Panels (a) and (d) carry points beyond their frames, so their plotting
# areas are enlarged at the same scale and the frame is drawn separately.
A_XMAX, A_YMAX = 1462, 0.0222
D_XMAX, D_YMAX = 1106, 0.0332
a_right = 108 + (826 - 108) * A_XMAX / 1440
a_top = 258 - (258 - 35) * A_YMAX / 0.020
d_right = 108 + (479 - 108) * D_XMAX / 1080
d_top = 1012 - (1012 - 690) * D_YMAX / 0.030

fig.update_layout(
    width=W, height=H, margin=dict(l=0, r=0, t=0, b=0),
    paper_bgcolor="white", plot_bgcolor="white",
    font=dict(family=FONT, color="black"),
    xaxis=xax("y", 108, a_right, [0, A_XMAX], TICKS_1440, line=False),
    yaxis=yax("x", a_top, 258, [0, A_YMAX], Y_TICKS_020, line=False),
    xaxis2=xax("y2", 108, 325.5, [0, 480], TICKS_FP_LEFT),
    yaxis2=yax("x2", 350, 577, [0, 0.020], Y_TICKS_020, mirror=False),
    xaxis3=xax("y3", 335, 479, [767, 1080], TICKS_FP_RIGHT),
    yaxis3=dict(anchor="x3", side="right", domain=[fy(577), fy(350)], range=[0, 0.020],
                showline=True, linecolor="black", linewidth=1.5, ticks="",
                showticklabels=False, showgrid=False, zeroline=False),
    xaxis4=xax("y4", 554, 827, [0, 720], TICKS_720),
    yaxis4=yax("x4", 352, 576, [0, 0.020], Y_TICKS_020),
    xaxis5=xax("y5", 108, d_right, [0, D_XMAX], TICKS_1080, line=False),
    yaxis5=yax("x5", d_top, 1012, [0, D_YMAX], Y_TICKS_030, line=False),
    xaxis6=xax("y6", 554, 827, [0, 720], TICKS_720),
    yaxis6=yax("x6", 690, 1012, [0, 0.030], Y_TICKS_030),
)

# Frames of panels (a) and (d) in data coordinates
fig.add_shape(type="rect", xref="x", yref="y", x0=0, x1=1440, y0=0, y1=0.020,
              line=dict(color="black", width=1.5), fillcolor="rgba(0,0,0,0)")
fig.add_shape(type="rect", xref="x5", yref="y5", x0=0, x1=1080, y0=0, y1=0.030,
              line=dict(color="black", width=1.5), fillcolor="rgba(0,0,0,0)")

# Axis-break marks on the Fort Peck x axis
for x0 in (322, 331):
    fig.add_shape(type="line", xref="paper", yref="paper",
                  x0=fx(x0), y0=fy(581), x1=fx(x0 + 6), y1=fy(572),
                  line=dict(color="black", width=1.3))


def label(text, x, y, size=19, angle=0):
    fig.add_annotation(text=text, x=fx(x), y=fy(y), xref="paper", yref="paper",
                       xanchor="center", yanchor="middle", showarrow=False,
                       textangle=angle, font=dict(family=FONT, size=size, color="black"))


label("Lethbridge 1998–2001", 461, 54)
label("(a)", 797, 72, 22)
label("Fort Peck 2000, 2002", 300, 368)
label("(b)", 451, 388, 22)
label("Miles City 2000–2001", 689, 370)
label("(c)", 803, 388, 22)
label("Mandan 1999–2001", 301, 708)
label("(d)", 451, 722, 22)
label("Cheyenne 1997–1998", 692, 706)
label("(e)", 803, 724, 22)

label("Days from January 1, 1998", 472, 304)
label("Days from January 1, 2000", 306, 621)
label("Days from January 1, 2000", 695, 621)
label("Days from January 1, 1999", 300, 1061)
label("Days from January 1, 1997", 693, 1061)

label(Y_TITLE, 33, 146, 19.5, -90)
label(Y_TITLE, 33, 463, 19.5, -90)
label(Y_TITLE, 33, 846, 19.5, -90)

fig.write_html("out.html")
